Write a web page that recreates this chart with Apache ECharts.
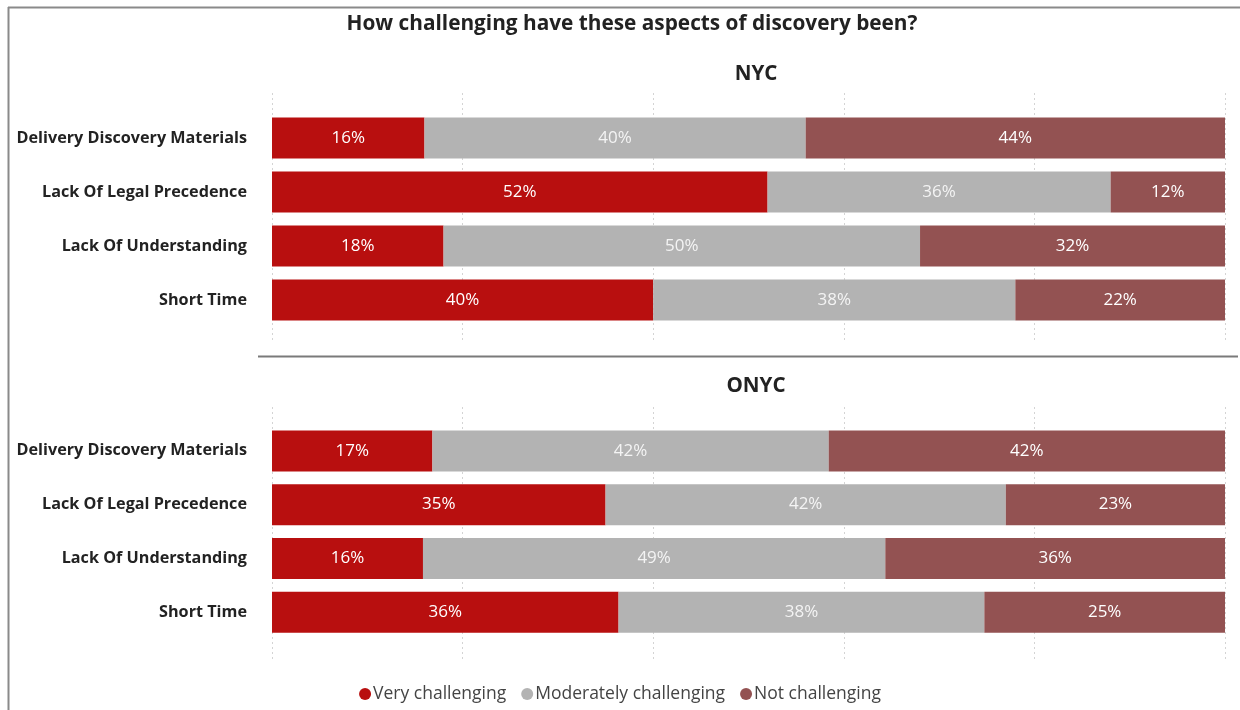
<!DOCTYPE html>
<html>
<head>
<meta charset="utf-8">
<script src="https://cdn.jsdelivr.net/npm/echarts@6/dist/echarts.min.js"></script>
<style>
  html, body { margin: 0; padding: 0; background: #fff; }
  #chart { width: 1240px; height: 710px; }
</style>
</head>
<body>
<div id="chart"></div>
<script>
// Survey responses: share of respondents per challenge level, by region
const categories = ['Delivery Discovery Materials', 'Lack Of Legal Precedence', 'Lack Of Understanding', 'Short Time'];
const seriesNames = ['Very challenging', 'Moderately challenging', 'Not challenging'];
const colors = ['#b80f0f', '#b3b3b3', '#935252'];

const nycVery = [16, 52, 18, 40];
const nycModerate = [40, 36, 50, 38];
const nycNot = [44, 12, 32, 22];

const onycVery = [17, 35, 16, 36];
const onycModerate = [42, 42, 49, 38];
const onycNot = [42, 23, 36, 25];

const xTicks = [0, 20, 40, 60, 80, 100];

const FONT = 'Open Sans';

// 100% stacked: each segment is its share of the row total
function shares(groups) {
  const totals = groups[0].map((_, i) => groups.reduce((s, g) => s + g[i], 0));
  return groups.map(g => g.map((v, i) => ({ value: v / totals[i] * 100, raw: v })));
}

const nyc = shares([nycVery, nycModerate, nycNot]);
const onyc = shares([onycVery, onycModerate, onycNot]);

const plotLeft = 272, plotRight = 15;

const grids = [
  { left: plotLeft, right: plotRight, top: 111, height: 216 },
  { left: plotLeft, right: plotRight, top: 424, height: 215 },
  { left: plotLeft, right: plotRight, top: 93, height: 250 },
  { left: plotLeft, right: plotRight, top: 407, height: 254 }
];

function barAxis(gridIndex) {
  return {
    type: 'value', gridIndex, min: 0, max: 100, interval: 20,
    axisLine: { show: false }, axisTick: { show: false },
    axisLabel: { show: false }, splitLine: { show: false }
  };
}
function gridLineAxis(gridIndex) {
  return {
    type: 'value', gridIndex, min: xTicks[0], max: xTicks[xTicks.length - 1], interval: 20,
    axisLine: { show: false }, axisTick: { show: false },
    axisLabel: { show: false },
    splitLine: { show: true, lineStyle: { type: [2, 3], color: '#d4d4d4', width: 1 } }
  };
}
function catAxis(gridIndex) {
  return {
    type: 'category', gridIndex, data: categories, inverse: true,
    axisLine: { show: false }, axisTick: { show: false },
    axisLabel: {
      margin: 25, fontFamily: FONT, fontWeight: 'bold', fontSize: 16.2, color: '#222'
    }
  };
}
function hiddenAxis(gridIndex) {
  return { type: 'value', gridIndex, min: 0, max: 1, show: false };
}

function panelSeries(data, axisIndex, stack) {
  return data.map((d, k) => ({
    name: seriesNames[k],
    type: 'bar',
    stack,
    xAxisIndex: axisIndex,
    yAxisIndex: axisIndex,
    barWidth: 41,
    z: 3,
    itemStyle: { color: colors[k] },
    label: {
      show: true, position: 'inside',
      fontFamily: FONT, fontSize: 17,
      color: k === 1 ? '#f4f4f4' : '#ffffff',
      formatter: p => p.data.raw + '%'
    },
    data: d
  }));
}

const chart = echarts.init(document.getElementById('chart'), null, { renderer: 'canvas' });

chart.setOption({
  backgroundColor: '#ffffff',
  animation: false,
  textStyle: { fontFamily: FONT },
  title: [
    { text: 'How challenging have these aspects of discovery been?', left: 627, top: 9, textAlign: 'center',
      textStyle: { fontFamily: FONT, fontWeight: 'bold', fontSize: 20.8, color: '#222' } },
    { text: 'NYC', left: 751, top: 59, textAlign: 'center',
      textStyle: { fontFamily: FONT, fontWeight: 'bold', fontSize: 20.6, color: '#222' } },
    { text: 'ONYC', left: 751, top: 371, textAlign: 'center',
      textStyle: { fontFamily: FONT, fontWeight: 'bold', fontSize: 20.6, color: '#222' } }
  ],
  legend: {
    data: seriesNames,
    left: 'center', top: 680,
    icon: 'circle', itemWidth: 12, itemHeight: 12, itemGap: 15,
    textStyle: { fontFamily: FONT, fontSize: 17.5, color: '#444', padding: [0, 0, 0, -3] }
  },
  grid: grids,
  xAxis: [barAxis(0), barAxis(1), gridLineAxis(2), gridLineAxis(3)],
  yAxis: [catAxis(0), catAxis(1), hiddenAxis(2), hiddenAxis(3)],
  series: [
    ...panelSeries(nyc, 0, 'nyc'),
    ...panelSeries(onyc, 1, 'onyc')
  ],
  graphic: [
    // frame along the top and left edges
    { type: 'line', shape: { x1: 8, y1: 7.5, x2: 1240, y2: 7.5 }, style: { stroke: '#8a8a8a', lineWidth: 2 }, silent: true },
    { type: 'line', shape: { x1: 8.5, y1: 7, x2: 8.5, y2: 710 }, style: { stroke: '#8a8a8a', lineWidth: 2 }, silent: true },
    // divider between the two panels
    { type: 'line', shape: { x1: 258, y1: 356.5, x2: 1238, y2: 356.5 }, style: { stroke: '#7a7a7a', lineWidth: 2 }, silent: true }
  ]
});
</script>
</body>
</html>
